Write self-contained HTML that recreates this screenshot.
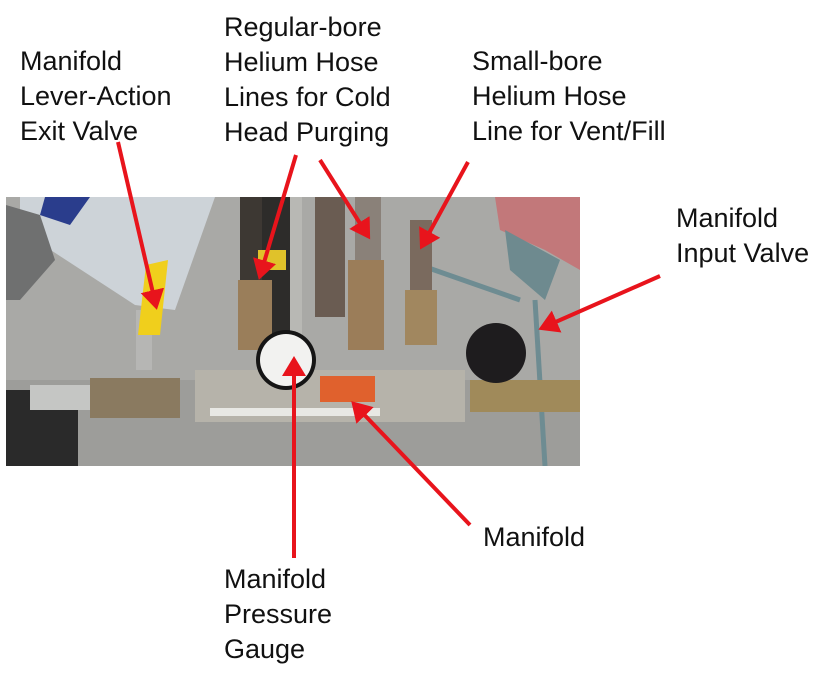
<!DOCTYPE html>
<html><head><style>
body{margin:0;background:#fff;width:829px;height:686px;overflow:hidden;position:relative;font-family:"Liberation Sans",sans-serif}
.t{position:absolute;font-size:27px;line-height:35px;color:#111;white-space:nowrap}
svg{position:absolute;left:0;top:0}
</style></head><body>
<svg width="829" height="686" viewBox="0 0 829 686">
<defs>
<marker id="a" markerWidth="6" markerHeight="6" refX="4" refY="3" orient="auto" markerUnits="strokeWidth"><path d="M0,0 L5,3 L0,6 z" fill="#e8141c"/></marker>
<clipPath id="c"><rect x="6" y="197" width="574" height="269"/></clipPath>
</defs>
<g clip-path="url(#c)">
<rect x="6" y="197" width="574" height="269" fill="#a9a9a6"/>
<rect x="6" y="380" width="574" height="86" fill="#9d9d9a"/>
<polygon points="20,197 215,197 175,310 135,305 20,230" fill="#cdd3d8"/>
<polygon points="45,197 90,197 70,225 40,215" fill="#2a3d8c"/>
<rect x="6" y="390" width="72" height="76" fill="#2a2a2a"/>
<polygon points="6,205 40,215 55,260 20,300 6,300" fill="#6f7070"/>
<polygon points="495,197 580,197 580,270 545,250 500,230" fill="#c2787a"/>
<polygon points="505,230 560,260 545,300 510,270" fill="#6e8a8f"/>
<line x1="535" y1="300" x2="545" y2="466" stroke="#6e8c92" stroke-width="5"/>
<line x1="420" y1="265" x2="520" y2="300" stroke="#6e8c92" stroke-width="5"/>
<rect x="240" y="197" width="22" height="110" fill="#3d3833"/>
<rect x="262" y="197" width="28" height="150" fill="#2d2c2a"/>
<rect x="258" y="250" width="28" height="20" fill="#e0c22a"/>
<rect x="290" y="197" width="12" height="150" fill="#b8b8b4"/>
<rect x="315" y="197" width="30" height="120" fill="#6a5c52"/>
<rect x="355" y="197" width="26" height="120" fill="#8a8179"/>
<rect x="410" y="220" width="22" height="120" fill="#7a6a5e"/>
<rect x="238" y="280" width="34" height="70" fill="#9a7e5a"/>
<rect x="348" y="260" width="36" height="90" fill="#9b7d59"/>
<rect x="405" y="290" width="32" height="55" fill="#a1875f"/>
<rect x="195" y="370" width="270" height="52" fill="#b6b3aa"/>
<rect x="210" y="408" width="170" height="8" fill="#e8e8e4"/>
<rect x="320" y="376" width="55" height="26" fill="#e0612d"/>
<rect x="30" y="385" width="60" height="25" fill="#c5c6c4"/>
<rect x="90" y="378" width="90" height="40" fill="#8a7a60"/>
<rect x="470" y="380" width="110" height="32" fill="#a08a5a"/>
<rect x="136" y="310" width="16" height="60" fill="#b6b6b4"/>
<polygon points="146,265 168,260 160,335 138,335" fill="#f0cf1c"/>
<circle cx="286" cy="360" r="30" fill="#151515"/>
<circle cx="286" cy="360" r="26" fill="#f2f2f0"/>
<ellipse cx="496" cy="353" rx="30" ry="30" fill="#1e1c1e"/>
</g>
<g stroke="#e8141c" stroke-width="4" fill="none" marker-end="url(#a)">
<line x1="118" y1="142" x2="156" y2="306"/>
<line x1="296" y1="155" x2="260" y2="276"/>
<line x1="320" y1="160" x2="368" y2="236"/>
<line x1="468" y1="162" x2="422" y2="246"/>
<line x1="660" y1="276" x2="542" y2="328"/>
<line x1="294" y1="558" x2="294" y2="360"/>
<line x1="470" y1="525" x2="354" y2="404"/>
</g>
</svg>
<div class="t" style="left:20px;top:44px">Manifold<br>Lever-Action<br>Exit Valve</div>
<div class="t" style="left:224px;top:10px">Regular-bore<br>Helium Hose<br>Lines for Cold<br>Head Purging</div>
<div class="t" style="left:472px;top:44px">Small-bore<br>Helium Hose<br>Line for Vent/Fill</div>
<div class="t" style="left:676px;top:201px">Manifold<br>Input Valve</div>
<div class="t" style="left:483px;top:520px">Manifold</div>
<div class="t" style="left:224px;top:562px">Manifold<br>Pressure<br>Gauge</div>
</body></html>
